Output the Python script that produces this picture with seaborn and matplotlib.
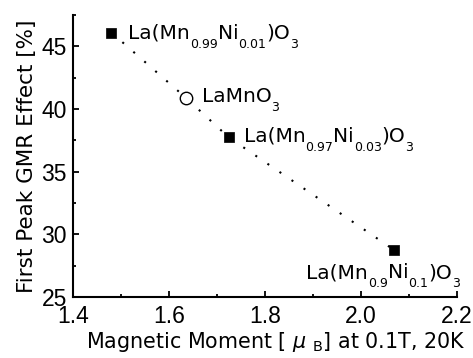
import matplotlib
matplotlib.use("Agg")
import matplotlib.pyplot as plt
from matplotlib.ticker import MultipleLocator
import seaborn as sns
import pandas as pd

# Samples, ordered by magnetic moment
samples = ["La(Mn0.99Ni0.01)O3", "LaMnO3", "La(Mn0.97Ni0.03)O3", "La(Mn0.9Ni0.1)O3"]
moment = [1.48, 1.635, 1.724, 2.069]
gmr = [46.1, 40.9, 37.75, 28.75]
doped = [True, False, True, True]
# chemical formulas as (text, is_subscript) pieces
formulas = [
    [("La(Mn", False), ("0.99", True), ("Ni", False), ("0.01", True), (")O", False), ("3", True)],
    [("LaMnO", False), ("3", True)],
    [("La(Mn", False), ("0.97", True), ("Ni", False), ("0.03", True), (")O", False), ("3", True)],
    [("La(Mn", False), ("0.9", True), ("Ni", False), ("0.1", True), (")O", False), ("3", True)],
]
x_ticks = [1.4, 1.6, 1.8, 2.0, 2.2]
y_ticks = [25, 30, 35, 40, 45]

df = pd.DataFrame({"sample": samples, "moment": moment, "gmr": gmr, "doped": doped})

sns.set_style("ticks")
plt.rcParams["font.family"] = ["DejaVu Sans"]
plt.rcParams["mathtext.fontset"] = "dejavusans"
for key in ("text.color", "axes.labelcolor", "xtick.color", "ytick.color", "axes.edgecolor"):
    plt.rcParams[key] = "black"

fig = plt.figure(figsize=(4.73, 3.58), dpi=100)
ax = fig.add_axes([73 / 473, 1 - 297 / 358, (457 - 73) / 473, (297 - 15) / 358])

sns.lineplot(data=df, x="moment", y="gmr", ax=ax, color="black", lw=1.5,
             linestyle=(0, (1, 6)), sort=False)
sns.scatterplot(data=df[df["doped"]], x="moment", y="gmr", ax=ax, marker="s",
                s=50, color="black", edgecolor="black", linewidth=0.5, zorder=3)
sns.scatterplot(data=df[~df["doped"]], x="moment", y="gmr", ax=ax, marker="o",
                s=80, facecolor="white", edgecolor="black", linewidth=1.0, zorder=3)

ax.set_xlim(1.4, 2.2)
ax.set_ylim(25, 47.5)
ax.set_xticks(x_ticks)
ax.set_yticks(y_ticks)
ax.set_xticklabels([f"{v:.1f}" for v in x_ticks])
ax.set_yticklabels([str(v) for v in y_ticks])
ax.xaxis.set_minor_locator(MultipleLocator(0.1))
ax.yaxis.set_minor_locator(MultipleLocator(2.5))
ax.tick_params(which="major", direction="in", length=4.5, width=1.3, labelsize=16.5,
               labelfontfamily="Liberation Sans")
ax.tick_params(axis="x", which="major", pad=6)
ax.tick_params(axis="y", which="major", pad=4.5)
ax.tick_params(which="minor", direction="in", length=2.5, width=1.3)
for side in ("left", "bottom"):
    ax.spines[side].set_linewidth(1.5)
sns.despine(ax=ax)

# formula labels: main text on the baseline, subscripts lowered below it
MAIN_SIZE, SUB_SIZE, SUB_DROP = 14.5, 9, -9
renderer = fig.canvas.get_renderer()


def piece_width(text, size):
    t = fig.text(0, 0, text, fontsize=size)
    w = t.get_window_extent(renderer).width
    t.remove()
    return w


label_offsets = [(17, -6, "left"), (16, -4, "left"), (15, -4.5, "left"), (66, -28, "right")]
for xv, yv, parts, (dx, dy, ha) in zip(moment, gmr, formulas, label_offsets):
    widths = [piece_width(p, SUB_SIZE if sub else MAIN_SIZE) for p, sub in parts]
    cur = dx - sum(widths) if ha == "right" else dx
    for (p, sub), w in zip(parts, widths):
        ax.annotate(p, (xv, yv), xytext=(cur, dy + (SUB_DROP if sub else 0)),
                    textcoords="offset pixels", ha="left", va="baseline",
                    fontsize=SUB_SIZE if sub else MAIN_SIZE, annotation_clip=False)
        cur += w

ax.set_xlabel(r"Magnetic Moment [ $\mu$ $_{\mathrm{B}}$] at 0.1T, 20K", fontsize=14.9)
ax.xaxis.label.set_horizontalalignment("left")
ax.xaxis.label.set_verticalalignment("baseline")
ax.xaxis.set_label_coords((86 - 73) / 384, -(348 - 297) / 282)
ax.set_ylabel("First Peak GMR Effect [%]", fontsize=15.5)
ax.yaxis.label.set_verticalalignment("baseline")
ax.yaxis.set_label_coords(-(73 - 33) / 384, 0.5)

fig.savefig("out.png", dpi=100)
